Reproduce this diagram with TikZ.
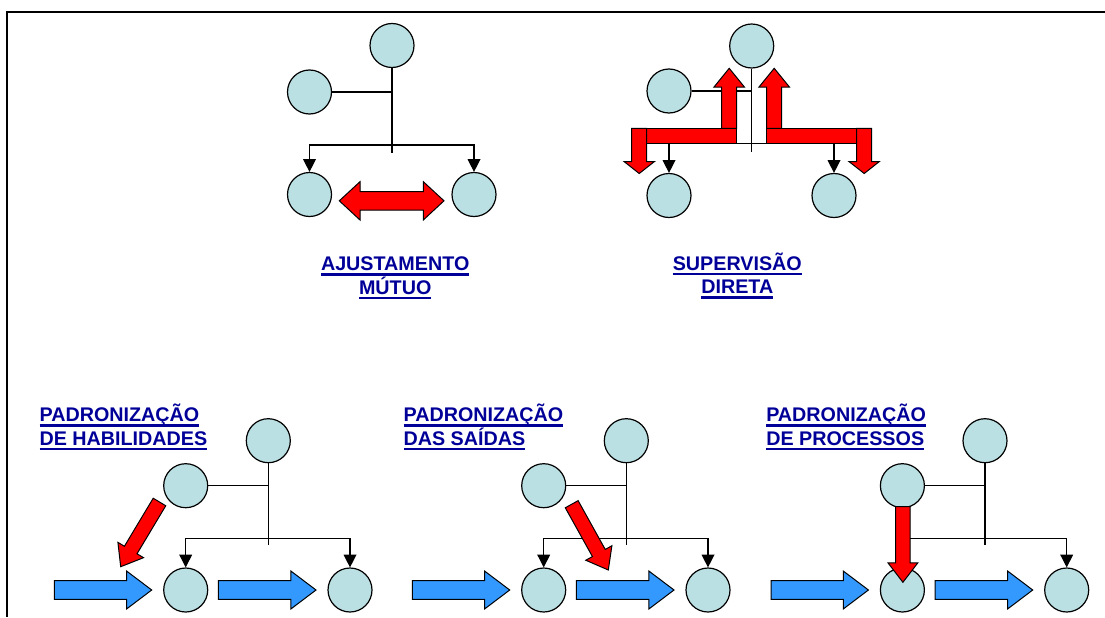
\documentclass[tikz,border=0pt]{standalone}
\usepackage{fontspec}
\setmainfont{Liberation Sans}
\usetikzlibrary{arrows.meta,calc}
\definecolor{circfill}{RGB}{187,224,227}
\definecolor{lblblue}{RGB}{0,0,153}
\definecolor{bluefill}{RGB}{51,153,255}
\newsavebox\ulsavebox
\newcommand\ulbox[1]{\sbox\ulsavebox{#1}\rlap{\rule[-3.6pt]{\wd\ulsavebox}{1.7pt}}\usebox\ulsavebox}
% block arrow: #1 style, #2 from, #3 to, #4 shaft half width, #5 head half width, #6 head length
\newcommand\BlkArrow[6]{%
  \coordinate (bah) at ($(#3)!#6!(#2)$);
  \draw[#1] ($(#2)!#4!90:(#3)$) -- ($(bah)!#4!-90:(#2)$) -- ($(bah)!#5!-90:(#2)$) -- (#3)
    -- ($(bah)!#5!90:(#2)$) -- ($(bah)!#4!90:(#2)$) -- ($(#2)!#4!-90:(#3)$) -- cycle;
}
\tikzset{
  circ/.style={circle, draw=black, line width=0.9pt, fill=circfill, minimum size=33pt, inner sep=0pt},
  conn/.style={draw=black, line width=0.95pt},
  tri both/.style={{Triangle[width=9.5pt,length=9.5pt]}-{Triangle[width=9.5pt,length=9.5pt]}},
  redshape/.style={fill=red, draw=black, line width=0.75pt, line join=miter},
  blueshape/.style={fill=bluefill, draw=black, line width=0.75pt, line join=miter},
  lbl/.style={font=\fontsize{14.8}{17}\selectfont\bfseries, text=lblblue, inner sep=0pt},
  frameline/.style={draw=black, line width=1.5pt}
}
\begin{document}
\begin{tikzpicture}[x=0.75pt, y=-0.75pt]
\useasboundingbox (0,0) rectangle (1105,617);
% frame
\coordinate (fbl) at (6.8,617);
\coordinate (ftl) at (6.8,12);
\coordinate (ftr) at (1106,12);
\draw[frameline] (fbl) -- (ftl) -- (ftr);

% ---------- Ajustamento mutuo ----------
\node[circ] (a1) at (392,45.5) {};
\node[circ] (a2) at (309.5,92) {};
\node[circ] (a3) at (309.5,194.5) {};
\node[circ] (a4) at (474,194.5) {};
\coordinate (aj) at (392,152.5);
\coordinate (ab) at (392,145);
\draw[conn] (a1.south) -- (aj);
\draw[conn] (a2.east) -- (a2.east -| aj);
\draw[conn, tri both] (a3.north) -- (a3.north |- ab) -- (a4.north |- ab) -- (a4.north);
\draw[redshape] (339.3,200.8) -- (360,181.7) -- (360,191.6) -- (423.3,191.6) -- (423.3,181.7)
  -- (444,200.8) -- (423.3,220) -- (423.3,210) -- (360,210) -- (360,220) -- cycle;

% ---------- Supervisao direta ----------
\node[circ] (b1) at (751.7,46) {};
\node[circ] (b2) at (669,91) {};
\node[circ] (b3) at (669,195.5) {};
\node[circ] (b4) at (834,195.5) {};
\coordinate (bj) at (751.7,152);
\coordinate (bb) at (751.7,143.3);
\draw[conn] (b1.south) -- (bj);
\draw[conn] (b2.east) -- (b2.east -| bj);
\draw[conn, tri both] (b3.north) -- (b3.north |- bb) -- (b4.north |- bb) -- (b4.north);
% red shapes
\draw[redshape] (646.7,128.3) rectangle (736.7,143.3);
\draw[redshape] (766.7,128.3) rectangle (856.7,143.3);
\draw[redshape] (631.7,128.3) -- (646.7,128.3) -- (646.7,161.5) -- (654.5,161.5) -- (639.2,173.5)
  -- (624,161.5) -- (631.7,161.5) -- cycle;
\draw[redshape] (871.7,128.3) -- (856.7,128.3) -- (856.7,161.5) -- (848.9,161.5) -- (864.2,173.5)
  -- (879.4,161.5) -- (871.7,161.5) -- cycle;
\draw[redshape] (721.7,128.3) -- (721.7,87) -- (714,87) -- (729.2,68.3) -- (744.4,87)
  -- (736.7,87) -- (736.7,128.3) -- cycle;
\draw[redshape] (781.7,128.3) -- (781.7,87) -- (789.4,87) -- (774.2,68.3) -- (759,87)
  -- (766.7,87) -- (766.7,128.3) -- cycle;

% ---------- Bottom three diagrams ----------
\foreach \i/\dx in {1/0, 2/358, 3/716.7} {
  \begin{scope}[shift={(\dx,0)}]
    \node[circ] (t\i) at (268.3,440.7) {};
    \node[circ] (m\i) at (185.7,485.7) {};
    \node[circ] (l\i) at (185.7,590) {};
    \node[circ] (r\i) at (350,590) {};
    \coordinate (j\i) at (268.3,545);
    \coordinate (k\i) at (268.3,538.3);
    \coordinate (ba\i) at (54.3,590);
    \coordinate (bb\i) at (151.7,590);
    \coordinate (bc\i) at (218.3,590);
    \coordinate (bd\i) at (316,590);
  \end{scope}
}
\foreach \i in {1,2,3} {
  \draw[conn] (t\i.south) -- (j\i);
  \draw[conn] (m\i.east) -- (m\i.east -| j\i);
  \draw[conn, tri both] (l\i.north) -- (l\i.north |- k\i) -- (r\i.north |- k\i) -- (r\i.north);
  \BlkArrow{blueshape}{ba\i}{bb\i}{7.1pt}{14.2pt}{18.8pt}
  \BlkArrow{blueshape}{bc\i}{bd\i}{7.1pt}{14.2pt}{18.8pt}
}
% red arrows bottom
\coordinate (ra1) at (159.5,502);
\coordinate (rb1) at (120.7,566.7);
\coordinate (ra2) at (571.7,504.2);
\coordinate (rb2) at (608.3,570);
\coordinate (ra3) at (902.9,506.7);
\coordinate (rb3) at (902.9,582.3);
\BlkArrow{redshape}{ra1}{rb1}{5.5pt}{11.2pt}{14.6pt}
\BlkArrow{redshape}{ra2}{rb2}{5.5pt}{11.2pt}{14.6pt}
\BlkArrow{redshape}{ra3}{rb3}{5.5pt}{11.2pt}{14.6pt}

% ---------- Labels ----------
\node[lbl, anchor=base] (la1) at (395.2,270.8) {\ulbox{AJUSTAMENTO}};
\node[lbl, anchor=base] (la2) at (395.2,294.3) {\ulbox{MÚTUO}};
\node[lbl, anchor=base] (lb1) at (737.3,270.5) {\ulbox{SUPERVISÃO}};
\node[lbl, anchor=base] (lb2) at (737.3,293.8) {\ulbox{DIRETA}};
\node[lbl, anchor=base west] (lc1) at (39.3,421.8) {\ulbox{PADRONIZAÇÃO}};
\node[lbl, anchor=base west] (lc2) at (39.3,445.2) {\ulbox{DE HABILIDADES}};
\node[lbl, anchor=base west] (ld1) at (403.3,421.8) {\ulbox{PADRONIZAÇÃO}};
\node[lbl, anchor=base west] (ld2) at (403.3,445.2) {\ulbox{DAS SAÍDAS}};
\node[lbl, anchor=base west] (le1) at (766,421.8) {\ulbox{PADRONIZAÇÃO}};
\node[lbl, anchor=base west] (le2) at (766,445.2) {\ulbox{DE PROCESSOS}};
\end{tikzpicture}
\end{document}
